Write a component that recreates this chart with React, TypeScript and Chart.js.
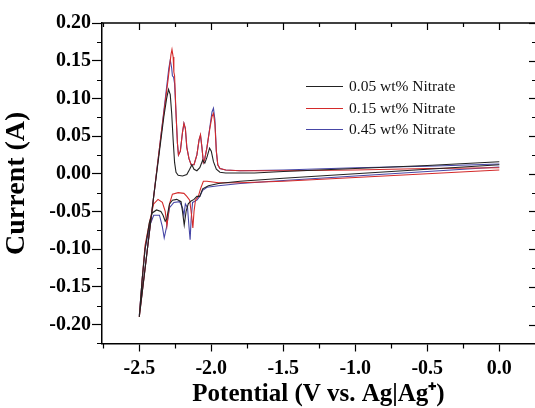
import React, { useEffect, useRef } from "react";
import { Chart, registerables } from "chart.js";

Chart.register(...registerables);

const seriesLabels = ["0.05 wt% Nitrate", "0.15 wt% Nitrate", "0.45 wt% Nitrate"];
const seriesColors = ["#222222", "#d42a2a", "#4646a6"];

const xTicks = [-2.5, -2.0, -1.5, -1.0, -0.5, 0.0];
const yTicks = [-0.2, -0.15, -0.1, -0.05, 0.0, 0.05, 0.1, 0.15, 0.2];

// 0.05 wt% – cathodic scan (0 -> -2.5) then anodic scan (-2.5 -> 0)
const blackV = [
  0, -0.5, -1.0, -1.5, -1.8, -1.95, -2.02, -2.06, -2.08, -2.1, -2.12, -2.14, -2.16, -2.175, -2.188, -2.2, -2.21,
  -2.24, -2.27, -2.29, -2.3, -2.31, -2.32, -2.335, -2.35, -2.38, -2.41, -2.43, -2.46, -2.48, -2.5,
  -2.45, -2.4, -2.36, -2.33, -2.31, -2.297, -2.285, -2.275, -2.265, -2.255, -2.245, -2.23, -2.2, -2.17, -2.15,
  -2.135, -2.12, -2.1, -2.08, -2.06, -2.045, -2.03, -2.012, -2.0, -1.985, -1.965, -1.94, -1.9, -1.7, -1.5, -1.0,
  -0.5, 0,
];
const blackI = [
  0.012, 0.006, 0.0, -0.006, -0.01, -0.013, -0.016, -0.02, -0.03, -0.03, -0.034, -0.036, -0.04, -0.05, -0.068,
  -0.05, -0.037, -0.034, -0.035, -0.04, -0.05, -0.06, -0.063, -0.055, -0.05, -0.048, -0.052, -0.065, -0.1, -0.14,
  -0.19,
  -0.11, -0.03, 0.03, 0.075, 0.1, 0.112, 0.105, 0.08, 0.045, 0.015, 0.002, -0.002, -0.003, -0.001, 0.006, 0.012,
  0.006, 0.004, 0.008, 0.018, 0.014, 0.022, 0.034, 0.03, 0.016, 0.006, 0.002, 0.001, 0.001, 0.003, 0.007, 0.011,
  0.016,
];

// 0.15 wt%
const redV = [
  0, -0.5, -1.0, -1.5, -1.8, -1.95, -2.03, -2.055, -2.075, -2.09, -2.11, -2.12, -2.128, -2.137, -2.15, -2.17, -2.19,
  -2.23, -2.27, -2.29, -2.308, -2.32, -2.34, -2.37, -2.4, -2.43, -2.46, -2.48, -2.5,
  -2.45, -2.4, -2.35, -2.3, -2.28, -2.273, -2.265, -2.26, -2.255, -2.245, -2.235, -2.228, -2.215, -2.2, -2.19, -2.18,
  -2.17, -2.155, -2.14, -2.12, -2.1, -2.085, -2.075, -2.065, -2.055, -2.045, -2.03, -2.01, -1.995, -1.985, -1.975,
  -1.965, -1.955, -1.94, -1.9, -1.8, -1.5, -1.0, -0.5, 0,
];
const redI = [
  0.005, 0.0, -0.005, -0.01, -0.012, -0.012, -0.01, -0.01, -0.02, -0.03, -0.035, -0.05, -0.072, -0.055, -0.035,
  -0.03, -0.026, -0.025, -0.027, -0.04, -0.069, -0.05, -0.038, -0.034, -0.04, -0.065, -0.095, -0.14, -0.19,
  -0.11, -0.03, 0.05, 0.125, 0.158, 0.165, 0.155, 0.135, 0.13, 0.08, 0.04, 0.025, 0.03, 0.055, 0.067, 0.06, 0.035,
  0.02, 0.012, 0.012, 0.025, 0.045, 0.052, 0.035, 0.015, 0.02, 0.035, 0.06, 0.076, 0.08, 0.066, 0.03, 0.012,
  0.007, 0.005, 0.004, 0.004, 0.005, 0.007, 0.008,
];

// 0.45 wt%
const blueV = [
  0, -0.5, -1.0, -1.5, -1.8, -1.95, -2.03, -2.06, -2.08, -2.1, -2.13, -2.14, -2.147, -2.155, -2.165, -2.18, -2.19,
  -2.2, -2.22, -2.26, -2.29, -2.31, -2.327, -2.34, -2.36, -2.4, -2.43, -2.46, -2.48, -2.5,
  -2.45, -2.4, -2.35, -2.31, -2.295, -2.285, -2.275, -2.27, -2.262, -2.255, -2.245, -2.235, -2.228, -2.215, -2.2,
  -2.19, -2.18, -2.17, -2.155, -2.14, -2.12, -2.1, -2.085, -2.075, -2.065, -2.055, -2.045, -2.03, -2.01, -1.995,
  -1.985, -1.975, -1.965, -1.955, -1.94, -1.9, -1.8, -1.5, -1.0, -0.5, 0,
];
const blueI = [
  0.009, 0.003, -0.003, -0.009, -0.013, -0.016, -0.018, -0.022, -0.03, -0.035, -0.038, -0.06, -0.0875, -0.07,
  -0.045, -0.04, -0.055, -0.045, -0.037, -0.038, -0.045, -0.07, -0.085, -0.07, -0.055, -0.055, -0.07, -0.1, -0.14,
  -0.188,
  -0.11, -0.03, 0.05, 0.115, 0.14, 0.151, 0.14, 0.13, 0.128, 0.12, 0.08, 0.04, 0.025, 0.03, 0.055, 0.067, 0.06,
  0.035, 0.02, 0.012, 0.012, 0.025, 0.045, 0.051, 0.035, 0.015, 0.02, 0.035, 0.062, 0.082, 0.087, 0.072, 0.03,
  0.012, 0.007, 0.005, 0.004, 0.005, 0.008, 0.01, 0.013,
];

const seriesV = [blackV, redV, blueV];
const seriesI = [blackI, redI, blueI];

const FONT = "'Liberation Serif', 'Times New Roman', serif";

const framePlugin = {
  id: "frame",
  afterDraw(chart: any) {
    const ctx = chart.ctx;
    const { left, right, top, bottom } = chart.chartArea;
    const xs = chart.scales.x;
    const ys = chart.scales.y;
    ctx.save();
    ctx.strokeStyle = "#000";
    ctx.lineWidth = 1.5;
    // top frame line
    ctx.beginPath();
    ctx.moveTo(left, top);
    ctx.lineTo(right, top);
    ctx.stroke();
    ctx.lineWidth = 1.2;
    // x ticks: minor bottom, all top
    for (let v = -2.75; v <= 0.25 + 1e-9; v += 0.25) {
      const px = Math.round(xs.getPixelForValue(v)) + 0.5;
      if (px < left - 0.5 || px > right) continue;
      const major = Math.abs(v * 2 - Math.round(v * 2)) < 1e-6;
      ctx.beginPath();
      if (!major) {
        ctx.moveTo(px, bottom);
        ctx.lineTo(px, bottom + 5);
      }
      ctx.moveTo(px, top);
      ctx.lineTo(px, top + (major ? 7 : 4));
      ctx.stroke();
    }
    // y ticks: minor left, all right
    for (let k = -9; k <= 8; k++) {
      const v = k * 0.025;
      const py = Math.round(ys.getPixelForValue(v)) + 0.5;
      if (py < top - 0.5 || py > bottom) continue;
      const major = k % 2 === 0;
      ctx.beginPath();
      if (!major) {
        ctx.moveTo(left, py);
        ctx.lineTo(left - 5, py);
      }
      ctx.moveTo(right, py);
      ctx.lineTo(right - (major ? 6 : 3), py);
      ctx.stroke();
    }
    // legend
    ctx.font = `15.5px ${FONT}`;
    ctx.textBaseline = "middle";
    ctx.textAlign = "left";
    const rows = [86, 108, 129];
    chart.data.datasets.forEach((ds: any, i: number) => {
      ctx.strokeStyle = ds.borderColor;
      ctx.lineWidth = 1;
      ctx.beginPath();
      ctx.moveTo(306, rows[i] + 0.5);
      ctx.lineTo(343, rows[i] + 0.5);
      ctx.stroke();
      ctx.fillStyle = "#111";
      ctx.fillText(ds.label, 349, rows[i] + 1);
    });
    ctx.restore();
  },
};

export default function App() {
  const ref = useRef<HTMLCanvasElement>(null);
  useEffect(() => {
    if (!ref.current) return;
    const datasets = seriesLabels.map((label, i) => ({
      label,
      data: seriesV[i].map((v, j) => ({ x: v, y: seriesI[i][j] })),
      borderColor: seriesColors[i],
      backgroundColor: seriesColors[i],
      borderWidth: 1.1,
      pointRadius: 0,
      showLine: true,
      fill: false,
      tension: 0,
    }));
    const chart = new Chart(ref.current, {
      type: "scatter",
      data: { datasets },
      options: {
        animation: false,
        responsive: false,
        layout: { padding: { top: 23, right: 0, left: 0, bottom: 0 } },
        plugins: { legend: { display: false }, tooltip: { enabled: false } },
        scales: {
          x: {
            type: "linear",
            min: -2.759,
            max: 0.248,
            afterBuildTicks: (s: any) => {
              s.ticks = xTicks.map((v) => ({ value: v }));
            },
            afterFit: (s: any) => {
              s.height = 64.5;
            },
            ticks: {
              color: "#000",
              font: { family: FONT, size: 20, weight: "bold" },
              padding: 5,
              maxRotation: 0,
              autoSkip: false,
              callback: (v: any) => Number(v).toFixed(1),
            },
            grid: { drawOnChartArea: false, tickLength: 8, tickColor: "#000", tickWidth: 1.2 },
            border: { display: true, color: "#000", width: 1.5 },
            title: {
              display: true,
              text: "Potential (V vs. Ag|Ag\u207A)",
              color: "#000",
              font: { family: FONT, size: 25, weight: "bold" },
              padding: { top: 0, bottom: -2 },
            },
          },
          y: {
            type: "linear",
            min: -0.2252,
            max: 0.2,
            afterBuildTicks: (s: any) => {
              s.ticks = yTicks.map((v) => ({ value: v }));
            },
            afterFit: (s: any) => {
              s.width = 102;
            },
            ticks: {
              color: "#000",
              font: { family: FONT, size: 20, weight: "bold" },
              padding: 1,
              autoSkip: false,
              callback: (v: any) => {
                const n = Number(v);
                return Math.abs(n) < 1e-9 ? "0.00" : n.toFixed(2);
              },
            },
            grid: { drawOnChartArea: false, tickLength: 10, tickColor: "#000", tickWidth: 1.2 },
            border: { display: true, color: "#000", width: 1.5 },
            title: {
              display: true,
              text: "Current (A)",
              color: "#000",
              font: { family: FONT, size: 28, weight: "bold" },
              padding: { top: 0, bottom: 0 },
            },
          },
        },
      },
      plugins: [framePlugin],
    });
    return () => chart.destroy();
  }, []);
  return (
    <div style={{ position: "fixed", left: 0, top: 0, width: 535, height: 408, background: "#fff" }}>
      <canvas ref={ref} width={535} height={408} style={{ display: "block" }} />
    </div>
  );
}
